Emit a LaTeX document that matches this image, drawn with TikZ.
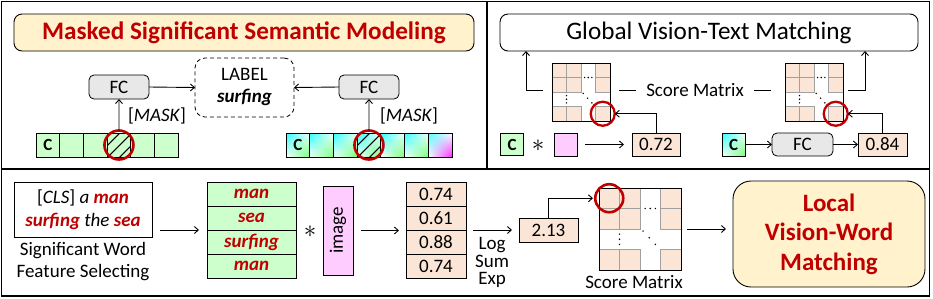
\documentclass[tikz,border=0pt]{standalone}
\usepackage{fontspec}
\setmainfont{Carlito}
\usetikzlibrary{arrows.meta,calc,shadings}
\definecolor{myred}{HTML}{C00000}
\definecolor{myyellow}{HTML}{FFF2CC}
\definecolor{mygray}{HTML}{E8E8E8}
\definecolor{mygreen}{HTML}{CCFFCC}
\definecolor{mypeach}{HTML}{FBE5D6}
\definecolor{mypink}{HTML}{FFCCFF}
\definecolor{mycellline}{HTML}{A0A0A0}
\newcommand\fA{\fontsize{19}{22}\selectfont}
\newcommand\fT{\fontsize{25.2}{29.5}\selectfont}
\newcommand\fC{\fontsize{17}{20}\selectfont}
\newcommand\hw[1]{\textcolor{myred}{\textbf{\textit{#1}}}}
\newcommand\scoremat[4]{%
  \foreach \mr in {0,1,3}{\foreach \mc in {0,1,3}{%
    \node[mcell, minimum size=#4pt] (#1-\mr-\mc) at ({#2+#4*(\mc+0.5)},{#3+#4*(\mr+0.5)}) {};}}
  \draw[line width=0.7pt] (#2,#3) rectangle ++({4*#4},{4*#4});
  \foreach \t in {0,0.5,1}{%
    \fill ({#2+#4*(2.25+0.5*\t)},{#3+#4}) circle (0.8pt);
    \fill ({#2+#4},{#3+#4*(2.25+0.5*\t)}) circle (0.8pt);
    \fill ({#2+#4*(2.15+0.6*\t)},{#3+#4*(2.1+0.65*\t)}) circle (0.8pt);
  }%
}
\begin{document}
\begin{tikzpicture}[x=1pt,y=-1pt,line width=0.8pt,
  every node/.style={inner sep=0pt,outer sep=0pt},
  arr/.style={-{Straight Barb[length=4pt,width=7pt,line width=0.9pt]},line width=0.9pt},
  tok/.style={draw,fill=mygreen,minimum width=23.7pt,minimum height=24pt},
  gtok/.style={draw,minimum width=23.7pt,minimum height=24pt,upper left=cyan!85,upper right=white,lower left=white,lower right=green!55},
  gtokend/.style={draw,minimum width=23.7pt,minimum height=24pt,upper left=cyan!70,upper right=white,lower left=white,lower right=magenta!85},
  circ/.style={draw=myred,line width=2.6pt,circle,minimum size=#1},
  score/.style={draw,fill=mypeach,minimum height=24pt},
  fcbox/.style={draw,fill=mygray,rounded corners=5pt},
  mcell/.style={draw=mycellline,fill=mypeach,line width=0.6pt},
  star/.style={font=\fontsize{30}{30}\selectfont}]
\useasboundingbox (0,0) rectangle (933,298);
% frame
\draw[line width=1.3pt] (1.5,1.5) rectangle (929.5,296);
\draw[line width=1.3pt] (1.5,169) -- (929.5,169);
\draw[line width=1.3pt] (487,1.5) -- (487,169);

% ---------- top left ----------
\node[draw,fill=myyellow,rounded corners=8pt,minimum width=460pt,minimum height=37pt,line width=0.9pt] (t1) at (244,32.5) {\fT\bfseries\color{myred}Masked Significant Semantic Modeling};
\node[tok] (L0) at ({36+23.7*0.5},145) {\fC\bfseries C};
\foreach \i in {1,...,5} \node[tok] (L\i) at ({36+23.7*(\i+0.5)},145) {};
\begin{scope}
\clip (L3.south west) rectangle (L3.north east);
\foreach \k in {-11,1,13} \draw[line width=1.1pt] ($(L3.center)+(\k-20,20)$) -- ($(L3.center)+(\k+20,-20)$);
\end{scope}
\node[circ=29pt] (cL) at (L3) {};
\node[fcbox,minimum width=60pt,minimum height=24pt] (fcL) at (119,87) {\fA FC};
\draw[arr] (cL.north) -- (fcL.south);
\node[anchor=west] (mkL) at (128,116) {\fA[\textit{MASK}]};
\node[draw,dash pattern=on 4pt off 3pt,rounded corners=10pt,minimum width=99pt,minimum height=59pt,align=center,font=\fA] (lab) at (244.5,87.5) {LABEL\\\textbf{\textit{surfing}}};

\node[gtok] (R0) at ({286+23.7*0.5},145) {\fC\bfseries C};
\foreach \i in {1,2,4,5} \node[gtok] (R\i) at ({286+23.7*(\i+0.5)},145) {};
\node[gtok] (R3) at ({286+23.7*3.5},145) {};
\node[gtokend] (R6) at ({286+23.7*6.5},145) {};
\begin{scope}
\clip (R3.south west) rectangle (R3.north east);
\foreach \k in {-11,1,13} \draw[line width=1.1pt] ($(R3.center)+(\k-20,20)$) -- ($(R3.center)+(\k+20,-20)$);
\end{scope}
\node[circ=29pt] (cR) at (R3) {};
\node[fcbox,minimum width=60pt,minimum height=24pt] (fcR) at (369,87) {\fA FC};
\draw[arr] (cR.north) -- (fcR.south);
\node[anchor=west] (mkR) at (380,116) {\fA[\textit{MASK}]};
\draw[arr] (fcL.east) -- (lab.west);
\draw[arr] (fcR.west) -- (lab.east);

% ---------- top right ----------
\node[draw,fill=white,rounded corners=8pt,minimum width=418pt,minimum height=37pt,line width=0.9pt] (t2) at (709,32.5) {\fT Global Vision-Text Matching};
\scoremat{mL}{552}{63}{14.5}
\scoremat{mR}{785}{63}{14.5}
\node (sm1) at (695,90) {\fA Score Matrix};
\draw ($(sm1.west)+(-27,0)$) -- ($(sm1.west)+(-10,0)$);
\draw ($(sm1.east)+(10,0)$) -- ($(sm1.east)+(27,0)$);
\coordinate (aL) at (543,90);
\coordinate (aR) at (848,90);
\draw[arr] (aL) -| ($(t2.south west)+(26,0)$);
\draw[arr] (aR) -| ($(t2.south east)+(-53,0)$);
\node[circ=24pt,line width=2.3pt] (cL2) at (mL-3-3) {};
\node[circ=24pt,line width=2.3pt] (cR2) at (mR-3-3) {};
\node[score,minimum width=48pt,minimum height=23pt] (v72) at (656,144.5) {\fA 0.72};
\node[score,minimum width=49pt,minimum height=23pt] (v84) at (882.5,144.5) {\fA 0.84};
\draw[arr] (v72.north) |- (cL2.east);
\draw[arr] (v84.north) |- (cR2.east);
\node[draw,fill=mygreen,minimum size=22.5pt] (cG) at (512,144.5) {\fC\bfseries C};
\node[star] (st1) at (538,146) {$\ast$};
\node[draw,fill=mypink,minimum size=23pt] (pk) at (565.5,144.5) {};
\draw[arr,shorten <=8pt,shorten >=8pt] (pk.east) -- (v72.west);
\node[draw,minimum size=23pt,upper left=cyan!85,upper right=white,lower left=white,lower right=green!55] (cC2) at (733.5,144.5) {\fC\bfseries C};
\node[fcbox,minimum width=61pt,minimum height=23pt] (fc2) at (802.5,144.5) {\fA FC};
\draw[arr] (cC2.east) -- (fc2.west);
\draw[arr] (fc2.east) -- (v84.west);

% ---------- bottom ----------
\node[draw,minimum width=138pt,minimum height=55pt,align=center,font=\fontsize{19}{23}\selectfont] (txt) at (83,209.5) {[\textit{CLS}] \textit{a} \hw{man}\\\hw{surfing} \textit{the} \hw{sea}};
\node[align=center,font=\fontsize{19}{22}\selectfont] (cap) at (83,262) {Significant Word\\Feature Selecting};
\foreach \w [count=\i] in {man,sea,surfing,man}
  \node[draw,fill=mygreen,minimum width=89pt,minimum height=24pt,font=\fA] (w\i) at (251.5,{182+24*(\i-0.5)}) {\hw{\w}};
\node[star] (st2) at (310,232) {$\ast$};
\node[draw,fill=mypink,minimum width=89pt,minimum height=30pt,rotate=90,font=\fA] (img) at (338,230.5) {image};
\foreach \v [count=\i] in {0.74,0.61,0.88,0.74}
  \node[score,minimum width=60pt,font=\fA] (s\i) at (436,{182+24*(\i-0.5)}) {\v};
\draw[arr] ($(txt.east |- w2.south)+(8,0)$) -- ($(w2.south west)+(-8,0)$);
\draw[arr] ($(img.south)+(8,0)$) -- ($(img.south -| s1.west)+(-7,0)$);
\node[score,minimum width=59pt] (v213) at (548.5,230) {\fA 2.13};
\draw[arr] ($(s2.south east)+(7,0)$) -- ($(v213.west)+(-7,0)$);
\node[align=center,font=\fontsize{19}{17.5}\selectfont] (lse) at (492,262.5) {Log\\Sum\\Exp};
\scoremat{mB}{599}{188}{20.5}
\node[circ=28pt] (cB) at (mB-0-0) {};
\draw[arr,shorten >=6pt] (v213.north) |- (mB-0-0.west);
\node (sm2) at (634,282) {\fA Score Matrix};
\node[draw,fill=myyellow,rounded corners=18pt,minimum width=192pt,minimum height=106pt,align=center,font=\fontsize{25}{29.5}\selectfont\bfseries,text=myred,line width=0.9pt] (loc) at (829,234) {Local\\Vision-Word\\Matching};
\coordinate (mBc) at (681,229);
\draw[arr] ($(mBc)+(6,0)$) -- ($(mBc -| loc.west)+(-7,0)$);
\end{tikzpicture}
\end{document}
